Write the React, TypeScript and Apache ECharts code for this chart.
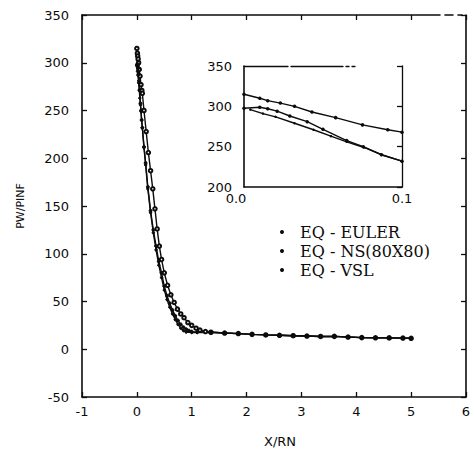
import React, { useEffect, useRef } from "react";
import * as echarts from "echarts";

const seriesNames = ["EQ - EULER", "EQ - NS(80X80)", "EQ - VSL"];

const xTicksMain = { min: -1, max: 6, interval: 1 };
const yTicksMain = { min: -50, max: 350, interval: 50 };
const xTicksInset = { min: 0, max: 0.1, interval: 0.1 };
const yTicksInset = { min: 200, max: 350, interval: 50 };

const eulerPoints: [number, number][] = [
  [0, 315], [0.01, 310], [0.015, 307], [0.023, 304], [0.032, 300], [0.043, 293],
  [0.058, 286], [0.075, 277], [0.091, 271], [0.1, 268],
  [0.13, 250], [0.17, 228], [0.21, 206], [0.25, 187], [0.29, 168], [0.33, 147],
  [0.37, 126], [0.41, 108], [0.45, 94], [0.5, 80], [0.56, 67], [0.62, 57],
  [0.68, 49], [0.74, 42], [0.8, 37], [0.86, 33], [0.93, 28], [1.0, 25],
  [1.08, 22], [1.15, 20], [1.25, 18.5],
];

const nsPoints: [number, number][] = [
  [0, 297.6], [0.01, 298.8], [0.015, 297], [0.021, 294], [0.029, 288], [0.04, 281],
  [0.05, 271.5], [0.065, 257.5], [0.0755, 250], [0.087, 240], [0.1, 232],
  [0.13, 212], [0.16, 195], [0.2, 170], [0.25, 145], [0.3, 125], [0.35, 108],
  [0.4, 92], [0.45, 80], [0.5, 66], [0.55, 56], [0.6, 48], [0.65, 41], [0.7, 35],
  [0.75, 30], [0.8, 26], [0.85, 23], [0.9, 21], [0.95, 19.5], [1.0, 18.5], [1.1, 18],
];

const vslPoints: [number, number][] = [
  [0.004, 296], [0.012, 291], [0.02, 287], [0.032, 279], [0.044, 271], [0.055, 263],
  [0.065, 256], [0.076, 249], [0.087, 240], [0.1, 232],
  [0.13, 211], [0.16, 193], [0.2, 168], [0.25, 143], [0.3, 122], [0.35, 104],
  [0.4, 88], [0.45, 75], [0.5, 62], [0.55, 52], [0.6, 44], [0.65, 37], [0.7, 31],
  [0.75, 26], [0.8, 22], [0.85, 19.5], [0.9, 18], [1.0, 17.5], [1.1, 17.5],
];

const tailPoints: [number, number][] = [
  [1.35, 17.8], [1.6, 17], [1.85, 16.4], [2.1, 15.6], [2.35, 15], [2.6, 14.6],
  [2.85, 14.2], [3.1, 13.8], [3.35, 13.4], [3.6, 13.5], [3.85, 12.8], [4.1, 12.2],
  [4.35, 12], [4.6, 11.9], [4.85, 11.7], [5.0, 11.5],
];

const INK = "#0c0c0c";
const SANS = "DejaVu Sans";

export default function App() {
  const ref = useRef<HTMLDivElement>(null);

  useEffect(() => {
    if (!ref.current) return;
    const chart = echarts.init(ref.current, undefined, { renderer: "svg" });

    const curves = [eulerPoints, nsPoints, vslPoints].map((p) => p.concat(tailPoints));
    const insetCurves = [eulerPoints, nsPoints, vslPoints].map((p) =>
      p.filter((d) => d[0] <= xTicksInset.max + 1e-9)
    );

    const mainSymbols = ["emptyCircle", "circle", "circle"];
    const mainSizes = [3.5, 3, 2.5];

    const axisLine = (extra: any = {}) => ({
      show: true,
      onZero: false,
      lineStyle: { color: INK, width: 1.6, ...extra },
    });
    const label = (margin: number) => ({
      color: INK,
      fontFamily: SANS,
      fontSize: 13,
      margin,
    });
    const tick = { show: true, inside: true, length: 5, lineStyle: { color: INK, width: 1.3 } };

    const option: any = {
      animation: false,
      backgroundColor: "#ffffff",
      grid: [
        { left: 82, top: 15, width: 384, height: 382 },
        { left: 244, top: 66, width: 158, height: 121 },
      ],
      legend: {
        orient: "vertical",
        left: 280,
        top: 224,
        padding: 0,
        itemWidth: 4,
        itemHeight: 4,
        itemGap: 3,
        selectedMode: false,
        data: seriesNames.map((n) => ({ name: n, icon: "circle" })),
        itemStyle: { color: INK, borderWidth: 0 },
        textStyle: {
          fontFamily: "DejaVu Serif",
          fontSize: 16,
          lineHeight: 15,
          color: INK,
          padding: [0, 0, 0, 11],
        },
      },
      xAxis: [
        {
          type: "value",
          gridIndex: 0,
          ...xTicksMain,
          name: "X/RN",
          nameLocation: "middle",
          nameGap: 38,
          nameTextStyle: { color: INK, fontFamily: SANS, fontSize: 13, padding: [0, 0, 0, 12] },
          axisLine: axisLine(),
          axisTick: tick,
          axisLabel: label(8),
          splitLine: { show: false },
        },
        {
          type: "value",
          gridIndex: 0,
          position: "top",
          ...xTicksMain,
          axisLine: axisLine({ type: [358, 5, 8, 5, 4, 4] }),
          axisTick: tick,
          axisLabel: { show: false },
          splitLine: { show: false },
        },
        {
          type: "value",
          gridIndex: 1,
          ...xTicksInset,
          axisLine: axisLine(),
          axisTick: { show: false },
          axisLabel: {
            ...label(5),
            lineHeight: 13,
            formatter: (v: number) => (v === 0 ? "{first|" + v.toFixed(1) + "}" : v.toFixed(1)),
            rich: {
              first: {
                fontFamily: SANS,
                fontSize: 13,
                color: INK,
                lineHeight: 13,
                padding: [0, 16, 0, 0],
              },
            },
          },
          splitLine: { show: false },
        },
        {
          type: "value",
          gridIndex: 1,
          position: "top",
          ...xTicksInset,
          axisLine: axisLine({ type: [44, 3, 52, 3, 3, 3, 3, 47], width: 1.3 }),
          axisTick: { show: false },
          axisLabel: { show: false },
          splitLine: { show: false },
        },
      ],
      yAxis: [
        {
          type: "value",
          gridIndex: 0,
          ...yTicksMain,
          name: "PW/PINF",
          nameLocation: "middle",
          nameGap: 56,
          nameTextStyle: { color: INK, fontFamily: SANS, fontSize: 11 },
          axisLine: axisLine(),
          axisTick: tick,
          axisLabel: label(13),
          splitLine: { show: false },
        },
        {
          type: "value",
          gridIndex: 0,
          position: "right",
          ...yTicksMain,
          axisLine: axisLine(),
          axisTick: tick,
          axisLabel: { show: false },
          splitLine: { show: false },
        },
        {
          type: "value",
          gridIndex: 1,
          ...yTicksInset,
          axisLine: axisLine(),
          axisTick: { show: false },
          axisLabel: { ...label(12), lineHeight: 13 },
          splitLine: { show: false },
        },
        {
          type: "value",
          gridIndex: 1,
          position: "right",
          ...yTicksInset,
          axisLine: axisLine({ width: 1.3 }),
          axisTick: tick,
          axisLabel: { show: false },
          splitLine: { show: false },
        },
      ],
      series: [
        ...curves.map((data, i) => ({
          name: seriesNames[i],
          type: "line",
          xAxisIndex: 0,
          yAxisIndex: 0,
          data,
          symbol: mainSymbols[i],
          symbolSize: mainSizes[i],
          showAllSymbol: true,
          lineStyle: { color: INK, width: 1.4 },
          itemStyle: { color: INK, borderColor: INK, borderWidth: 1 },
          emphasis: { disabled: true },
        })),
        ...insetCurves.map((data, i) => ({
          name: seriesNames[i],
          type: "line",
          xAxisIndex: 2,
          yAxisIndex: 2,
          data,
          symbol: "circle",
          symbolSize: i === 2 ? 2.5 : 3.5,
          showAllSymbol: true,
          lineStyle: { color: INK, width: 1.4 },
          itemStyle: { color: INK },
          emphasis: { disabled: true },
        })),
      ],
    };

    chart.setOption(option);
    return () => chart.dispose();
  }, []);

  return (
    <div
      ref={ref}
      style={{ position: "absolute", left: 0, top: 0, width: 474, height: 453, background: "#fff" }}
    />
  );
}
